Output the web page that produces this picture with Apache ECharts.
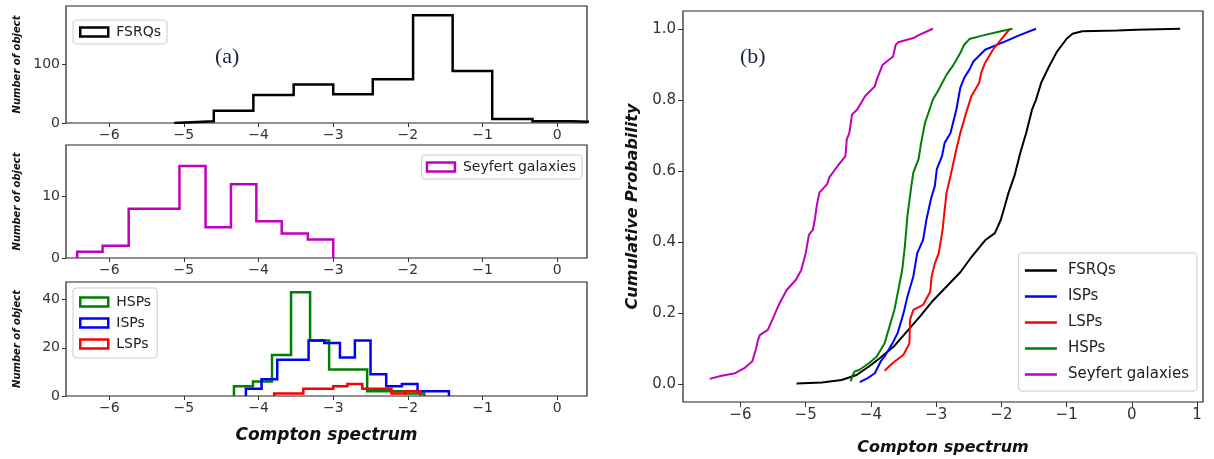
<!DOCTYPE html>
<html>
<head>
<meta charset="utf-8">
<title>Compton spectrum</title>
<script src="https://cdn.jsdelivr.net/npm/echarts@6/dist/echarts.min.js"></script>
<style>
  html, body { margin: 0; padding: 0; background: #fff; }
  #chart { width: 1214px; height: 459px; }
</style>
</head>
<body>
<div id="chart"></div>
<script>
// (a) histograms: bin edges and counts
const fsrqEdges = [-5.13, -4.60, -4.07, -3.53, -3.00, -2.47, -1.93, -1.40, -0.87, -0.33, 0.20, 0.73];
const fsrqCounts = [3, 21, 48, 66, 49, 75, 184, 89, 7, 3, 1];

const seyfertEdges = [-6.43, -6.09, -5.74, -5.40, -5.06, -4.71, -4.37, -4.03, -3.69, -3.34, -3.00];
const seyfertCounts = [1, 2, 8, 8, 15, 5, 12, 6, 4, 3];

const hspEdges = [-4.33, -4.075, -3.82, -3.565, -3.31, -3.055, -2.80, -2.545, -2.29, -2.035, -1.78];
const hspCounts = [4, 6, 17, 43, 23, 11, 11, 2, 2, 1];

const ispEdges = [-4.17, -3.96, -3.75, -3.54, -3.33, -3.12, -2.91, -2.71, -2.50, -2.29, -2.08, -1.87, -1.66, -1.45];
const ispCounts = [3, 7, 15, 15, 23, 22, 16, 23, 9, 4, 5, 2, 2];

const lspEdges = [-3.79, -3.59, -3.40, -3.20, -3.00, -2.81, -2.61, -2.42, -2.22, -2.03, -1.83];
const lspCounts = [1, 1, 3, 3, 4, 5, 3, 3, 1, 2];

// (b) cumulative curves, [compton spectrum, probability]
const fsrqCdf = [
    [-5.14, 0.002], [-4.75, 0.005], [-4.45, 0.012], [-4.22, 0.026], [-4.03, 0.05], [-3.85, 0.075],
    [-3.65, 0.106], [-3.45, 0.148], [-3.25, 0.19], [-3.05, 0.235], [-2.84, 0.275], [-2.63, 0.315],
    [-2.45, 0.36], [-2.25, 0.405], [-2.10, 0.425], [-2.01, 0.462], [-1.95, 0.50], [-1.89, 0.539],
    [-1.80, 0.586], [-1.71, 0.651], [-1.62, 0.707], [-1.53, 0.773], [-1.47, 0.80], [-1.39, 0.848],
    [-1.27, 0.894], [-1.15, 0.935], [-1.00, 0.972], [-0.91, 0.986], [-0.76, 0.993], [-0.23, 0.995],
    [0.07, 0.997], [0.74, 1.0]
];
const ispCdf = [
    [-4.17, 0.006], [-4.05, 0.017], [-3.94, 0.031], [-3.85, 0.064], [-3.79, 0.078], [-3.67, 0.115],
    [-3.59, 0.144], [-3.50, 0.2], [-3.44, 0.247], [-3.35, 0.303], [-3.29, 0.369], [-3.20, 0.406],
    [-3.15, 0.462], [-3.08, 0.521], [-3.02, 0.558], [-2.99, 0.605], [-2.91, 0.642], [-2.87, 0.679],
    [-2.78, 0.707], [-2.69, 0.773], [-2.63, 0.834], [-2.57, 0.862], [-2.49, 0.885], [-2.43, 0.908],
    [-2.25, 0.941], [-1.95, 0.964], [-1.71, 0.983], [-1.47, 1.0]
];
const lspCdf = [
    [-3.79, 0.038], [-3.67, 0.059], [-3.50, 0.083], [-3.41, 0.115], [-3.40, 0.181], [-3.35, 0.209],
    [-3.20, 0.223], [-3.09, 0.261], [-3.07, 0.303], [-3.02, 0.34], [-2.96, 0.369], [-2.90, 0.436],
    [-2.88, 0.474], [-2.84, 0.539], [-2.78, 0.586], [-2.69, 0.661], [-2.63, 0.707], [-2.54, 0.764],
    [-2.46, 0.81], [-2.34, 0.848], [-2.31, 0.876], [-2.25, 0.904], [-2.13, 0.941], [-2.01, 0.969],
    [-1.87, 1.0]
];
const hspCdf = [
    [-4.31, 0.008], [-4.28, 0.025], [-4.25, 0.036], [-4.18, 0.04], [-4.03, 0.059], [-3.91, 0.078],
    [-3.79, 0.115], [-3.73, 0.153], [-3.64, 0.209], [-3.58, 0.265], [-3.52, 0.322], [-3.48, 0.388],
    [-3.44, 0.474], [-3.38, 0.558], [-3.35, 0.595], [-3.27, 0.633], [-3.23, 0.679], [-3.17, 0.736],
    [-3.11, 0.768], [-3.05, 0.801], [-2.96, 0.829], [-2.84, 0.871], [-2.75, 0.894], [-2.63, 0.932],
    [-2.57, 0.955], [-2.49, 0.971], [-2.31, 0.98], [-2.01, 0.993], [-1.83, 1.0]
];
const seyfertCdf = [
    [-6.47, 0.015], [-6.29, 0.024], [-6.08, 0.031], [-5.94, 0.045], [-5.82, 0.064], [-5.76, 0.10],
    [-5.73, 0.125], [-5.70, 0.139], [-5.58, 0.153], [-5.49, 0.19], [-5.40, 0.228], [-5.29, 0.265],
    [-5.15, 0.294], [-5.07, 0.32], [-5.00, 0.368], [-4.95, 0.42], [-4.89, 0.434], [-4.86, 0.4625],
    [-4.83, 0.502], [-4.79, 0.539], [-4.67, 0.563], [-4.64, 0.581], [-4.51, 0.614], [-4.39, 0.642],
    [-4.37, 0.689], [-4.33, 0.707], [-4.29, 0.759], [-4.21, 0.773], [-4.09, 0.81], [-3.94, 0.838],
    [-3.91, 0.857], [-3.82, 0.899], [-3.66, 0.922], [-3.62, 0.955], [-3.58, 0.962], [-3.35, 0.974],
    [-3.26, 0.983], [-3.05, 1.0]
];

// tick labels
const histXTicks = [-6, -5, -4, -3, -2, -1, 0];
const fsrqYTicks = [0, 100];
const seyfertYTicks = [0, 10];
const blazarYTicks = [0, 20, 40];
const cdfXTicks = [-6, -5, -4, -3, -2, -1, 0, 1];
const cdfYTicks = [0, 0.2, 0.4, 0.6, 0.8, 1.0];

const colors = {
    fsrq: '#000000',
    seyfert: '#bf00bf',
    hsp: '#008000',
    isp: '#0000ff',
    lsp: '#ff0000'
};

const FONT = 'DejaVu Sans, sans-serif';
const TICK_COLOR = '#333';

// outline of a step histogram, as matplotlib histtype='step' draws it
function stepOutline(edges, counts) {
    const pts = [[edges[0], 0]];
    counts.forEach((c, i) => {
        pts.push([edges[i], c]);
        pts.push([edges[i + 1], c]);
    });
    pts.push([edges[edges.length - 1], 0]);
    return pts;
}

function minusLabel(v) {
    return String(v).replace('-', '\u2212');
}

const nameStyle = (size) => ({
    fontFamily: FONT,
    fontStyle: 'italic',
    fontWeight: 'bold',
    fontSize: size,
    color: '#111'
});

function histXAxis(gridIndex, withName) {
    return {
        type: 'value',
        gridIndex: gridIndex,
        min: -6.58,
        max: 0.40,
        axisLine: { show: false, onZero: false },
        splitLine: { show: false },
        axisTick: { show: true, length: 4, customValues: histXTicks, lineStyle: { color: TICK_COLOR } },
        axisLabel: {
            customValues: histXTicks, formatter: minusLabel,
            fontFamily: FONT, fontSize: 14, color: TICK_COLOR, margin: 5
        },
        name: withName ? 'Compton spectrum' : '',
        nameLocation: 'middle',
        nameGap: 31,
        nameTextStyle: nameStyle(17)
    };
}

function histYAxis(gridIndex, max, ticks) {
    return {
        type: 'value',
        gridIndex: gridIndex,
        min: 0,
        max: max,
        axisLine: { show: false, onZero: false },
        splitLine: { show: false },
        axisTick: { show: true, length: 4, customValues: ticks, lineStyle: { color: TICK_COLOR } },
        axisLabel: {
            customValues: ticks, formatter: minusLabel,
            fontFamily: FONT, fontSize: 14, color: TICK_COLOR, margin: 6
        },
        name: 'Number of object',
        nameLocation: 'middle',
        nameRotate: 90,
        nameGap: 44,
        nameTextStyle: nameStyle(10)
    };
}

function histSeries(name, edges, counts, color, axisIndex) {
    return {
        name: name,
        type: 'line',
        xAxisIndex: axisIndex,
        yAxisIndex: axisIndex,
        data: stepOutline(edges, counts),
        symbol: 'none',
        silent: true,
        lineStyle: { color: color, width: 2.5, join: 'miter' },
        itemStyle: { color: color }
    };
}

function cdfSeries(name, data, color) {
    return {
        name: name,
        type: 'line',
        xAxisIndex: 3,
        yAxisIndex: 3,
        data: data,
        symbol: 'none',
        silent: true,
        lineStyle: { color: color, width: 2 },
        itemStyle: { color: color }
    };
}

function boxItem(name, color) {
    return {
        name: name,
        icon: 'rect',
        itemStyle: { color: 'transparent', borderColor: color, borderWidth: 2.5, opacity: 1 }
    };
}

function lineItem(name, color) {
    return {
        name: name,
        itemStyle: { opacity: 0 },
        lineStyle: { color: color, width: 2.5 }
    };
}

const legendBase = {
    orient: 'vertical',
    selectedMode: false,
    backgroundColor: 'rgba(255,255,255,0.8)',
    borderColor: '#cccccc',
    borderWidth: 1,
    borderRadius: 3,
    itemWidth: 28,
    itemHeight: 9,
    itemGap: 7,
    textStyle: { fontFamily: FONT, fontSize: 14, color: '#222', padding: [0, 0, 0, 3] }
};

const gridBase = {
    show: true,
    borderColor: '#222',
    borderWidth: 1.2,
    backgroundColor: 'transparent',
    outerBoundsMode: 'none'
};

function buildOption() {
    return {
        animation: false,
        backgroundColor: '#ffffff',
        textStyle: { fontFamily: FONT },
        grid: [
            Object.assign({ left: 66, top: 6, width: 521, height: 117 }, gridBase),
            Object.assign({ left: 66, top: 145, width: 521, height: 113 }, gridBase),
            Object.assign({ left: 66, top: 282, width: 521, height: 114 }, gridBase),
            Object.assign({ left: 683, top: 11, width: 520, height: 391 }, gridBase)
        ],
        xAxis: [
            histXAxis(0, false),
            histXAxis(1, false),
            histXAxis(2, true),
            {
                type: 'value',
                gridIndex: 3,
                min: -6.88,
                max: 1.09,
                axisLine: { show: false, onZero: false },
                splitLine: { show: false },
                axisTick: { show: true, length: 5, customValues: cdfXTicks, lineStyle: { color: TICK_COLOR } },
                axisLabel: {
                    customValues: cdfXTicks, formatter: minusLabel,
                    fontFamily: FONT, fontSize: 15, color: TICK_COLOR, margin: 6
                },
                name: 'Compton spectrum',
                nameLocation: 'middle',
                nameGap: 38,
                nameTextStyle: nameStyle(16)
            }
        ],
        yAxis: [
            histYAxis(0, 200, fsrqYTicks),
            histYAxis(1, 18.4, seyfertYTicks),
            histYAxis(2, 47.3, blazarYTicks),
            {
                type: 'value',
                gridIndex: 3,
                min: -0.05,
                max: 1.05,
                axisLine: { show: false, onZero: false },
                splitLine: { show: false },
                axisTick: { show: true, length: 5, customValues: cdfYTicks, lineStyle: { color: TICK_COLOR } },
                axisLabel: {
                    customValues: cdfYTicks, formatter: v => v.toFixed(1),
                    fontFamily: FONT, fontSize: 15, color: TICK_COLOR, margin: 7
                },
                name: 'Cumulative Probability',
                nameLocation: 'middle',
                nameRotate: 90,
                nameGap: 42,
                nameTextStyle: nameStyle(16)
            }
        ],
        legend: [
            Object.assign({}, legendBase, {
                left: 73, top: 20, padding: [5, 6, 5, 6],
                data: [boxItem('FSRQs', colors.fsrq)]
            }),
            Object.assign({}, legendBase, {
                right: 632, top: 155, padding: [5, 6, 5, 4],
                data: [boxItem('Seyfert galaxies', colors.seyfert)]
            }),
            Object.assign({}, legendBase, {
                left: 73, top: 288, padding: [7, 6, 7, 6],
                data: [boxItem('HSPs', colors.hsp), boxItem('ISPs', colors.isp), boxItem('LSPs', colors.lsp)]
            }),
            Object.assign({}, legendBase, {
                right: 17, top: 253, padding: [10, 8, 9, 5],
                itemWidth: 32, itemHeight: 14, itemGap: 11,
                textStyle: { fontFamily: FONT, fontSize: 15, color: '#222', padding: [0, 0, 0, 6] },
                data: [
                    lineItem('FSRQs', colors.fsrq),
                    lineItem('ISPs', colors.isp),
                    lineItem('LSPs', colors.lsp),
                    lineItem('HSPs', colors.hsp),
                    lineItem('Seyfert galaxies', colors.seyfert)
                ]
            })
        ],
        graphic: [
            {
                type: 'text', left: 215, top: 46,
                style: { text: '(a)', font: '22px "Liberation Serif", serif', fill: '#1a2340' }
            },
            {
                type: 'text', left: 740, top: 46,
                style: { text: '(b)', font: '22px "Liberation Serif", serif', fill: '#1a2340' }
            }
        ],
        series: [
            histSeries('FSRQs', fsrqEdges, fsrqCounts, colors.fsrq, 0),
            histSeries('Seyfert galaxies', seyfertEdges, seyfertCounts, colors.seyfert, 1),
            histSeries('HSPs', hspEdges, hspCounts, colors.hsp, 2),
            histSeries('ISPs', ispEdges, ispCounts, colors.isp, 2),
            histSeries('LSPs', lspEdges, lspCounts, colors.lsp, 2),
            cdfSeries('FSRQs', fsrqCdf, colors.fsrq),
            cdfSeries('ISPs', ispCdf, colors.isp),
            cdfSeries('LSPs', lspCdf, colors.lsp),
            cdfSeries('HSPs', hspCdf, colors.hsp),
            cdfSeries('Seyfert galaxies', seyfertCdf, colors.seyfert)
        ]
    };
}

const chart = echarts.init(document.getElementById('chart'), null, { renderer: 'canvas' });
chart.setOption(buildOption());
</script>
</body>
</html>
